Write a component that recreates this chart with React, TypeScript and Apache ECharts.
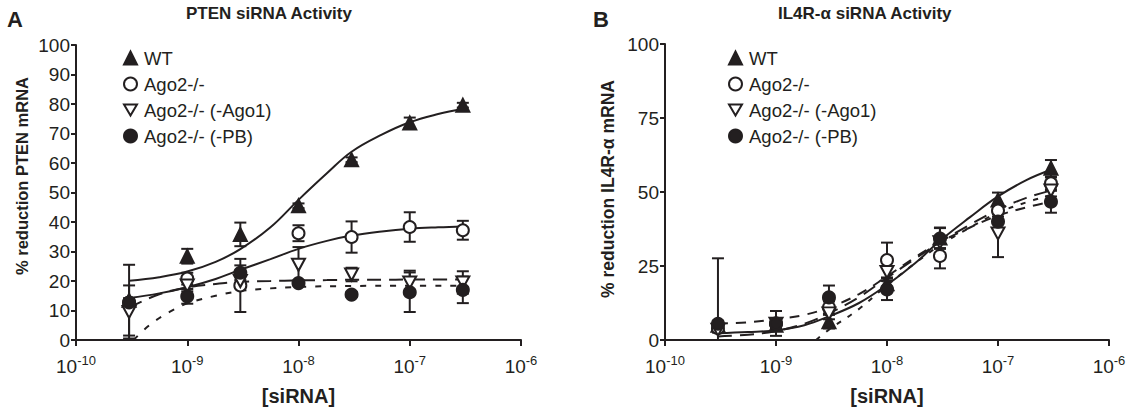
import React, { useEffect, useRef } from "react";
import * as echarts from "echarts";

// siRNA concentrations (M)
const CONC = [3e-10, 1e-9, 3e-9, 1e-8, 3e-8, 1e-7, 3e-7];
const X_TICKS = [1e-10, 1e-9, 1e-8, 1e-7, 1e-6];
const SERIES_NAMES = ["WT", "Ago2-/-", "Ago2-/- (-Ago1)", "Ago2-/- (-PB)"];

// Panel A: PTEN
const A_WT = [13.5, 28.4, 35.8, 45.5, 61.1, 73.6, 79.6];
const A_WT_ERR = [12, 2.5, 4, 0.8, 0.8, 1.8, 0.8];
const A_KO = [12.7, 20.8, 18.5, 36.2, 34.9, 38.3, 37.2];
const A_KO_ERR = [1.5, 2, 9, 2.7, 5.3, 5, 3.2];
const A_AGO1 = [9.5, 18.5, 20, 25.5, 22.2, 19.5, 19.5];
const A_AGO1_ERR = [9, 2, 2, 6, 2.3, 4, 3.8];
const A_PB = [12.7, 14.8, 22.8, 19.3, 15.4, 16.2, 17];
const A_PB_ERR = [1, 2.5, 2.5, 0.8, 0.8, 6.7, 4.5];

// fitted curves
const FIT_X = [3e-10, 5.6e-10, 1e-9, 1.8e-9, 3e-9, 5.6e-9, 1e-8, 1.8e-8, 3e-8, 5.6e-8, 1e-7, 1.8e-7, 3e-7];
const A_WT_FIT = [20.1, 21.3, 23.2, 26.5, 30.8, 38.2, 47.5, 56.5, 63.8, 69.6, 73.8, 76.6, 78.4];
const A_KO_FIT = [14.2, 15.8, 17.9, 20.7, 23.8, 27.4, 30.9, 33.6, 35.4, 36.8, 37.7, 38.2, 38.5];
const A_AGO1_FIT = [11, 15.5, 17.8, 19, 19.7, 20, 20.2, 20.3, 20.4, 20.4, 20.5, 20.5, 20.5];
const A_PB_FIT_X = [3.3e-10, 4.6e-10, 7e-10, 1e-9, 1.8e-9, 3e-9, 5.6e-9, 1e-8, 3e-8, 1e-7, 3e-7];
const A_PB_FIT = [0, 5.1, 9.6, 12.4, 15, 16.6, 17.5, 18, 18.3, 18.4, 18.4];

// Panel B: IL4R-alpha
const B_WT = [5, 5, 6.2, 19, 34.5, 47.3, 58];
const B_WT_ERR = [22.6, 1, 2.3, 2, 3.5, 2.5, 2.8];
const B_KO = [4, 5.5, 11, 27, 28.4, 43.7, 52.9];
const B_KO_ERR = [1, 1, 2, 5.9, 4.2, 2, 2];
const B_AGO1 = [3.5, 5.5, 9, 23, 33, 36, 50.5];
const B_AGO1_ERR = [1, 1, 2, 3, 2, 8, 2];
const B_PB = [5.5, 5.6, 14.4, 17.1, 34.3, 40, 46.7];
const B_PB_ERR = [1, 4.2, 4, 3.6, 3.5, 2.5, 3.7];

const B_WT_FIT = [2.3, 2.7, 3.3, 5, 8, 12.5, 18.6, 26, 33.5, 41.5, 48.5, 54, 57.5];
const B_KO_FIT = [1.2, 1.8, 3, 5.5, 9, 14.5, 21, 27.5, 33, 39, 44, 48, 50.5];
const B_PB_FIT = [5.5, 6, 7, 8.5, 11, 15.5, 21.5, 28, 33, 38, 42, 44.8, 46.7];
const B_AGO1_FIT_X = [2.3e-9, 3e-9, 5.6e-9, 1e-8, 1.8e-8, 3e-8, 5.6e-8, 1e-7, 1.8e-7, 3e-7];
const B_AGO1_FIT = [0, 3.5, 10.5, 18.5, 26, 32, 38, 43, 46.5, 49];

const FONT = "'Liberation Sans', Arial, Helvetica, sans-serif";
const INK = "#231f20";
const INV_TRI = "path://M0,0L20,0L10,17.3Z";

const SYMBOLS = [
  { symbol: "triangle", size: 13, color: INK },
  { symbol: "circle", size: 12, color: "#fff" },
  { symbol: INV_TRI, size: [13, 12], color: "#fff" },
  { symbol: "circle", size: 12, color: INK },
];
const FIT_STYLES: any[] = ["solid", "solid", [14, 8], [6, 9]];
const FIT_STYLES_B: any[] = ["solid", [14, 8], [5, 8], [10, 8]];

function pairs(xs: number[], ys: number[]) {
  return xs.map((x, i) => [x, ys[i]]);
}
function errData(vals: number[], errs: number[]) {
  return CONC.map((x, i) => [x, Math.max(0, vals[i] - errs[i]), vals[i] + errs[i]]);
}

function errorRender(params: any, api: any) {
  const x = api.value(0);
  const lo = api.value(1);
  const hi = api.value(2);
  const p1 = api.coord([x, hi]);
  const p2 = api.coord([x, lo]);
  const w = 6;
  const st = { stroke: INK, lineWidth: 2 };
  return {
    type: "group",
    children: [
      { type: "line", shape: { x1: p1[0], y1: p1[1], x2: p2[0], y2: p2[1] }, style: st },
      { type: "line", shape: { x1: p1[0] - w, y1: p1[1], x2: p1[0] + w, y2: p1[1] }, style: st },
      { type: "line", shape: { x1: p2[0] - w, y1: p2[1], x2: p2[0] + w, y2: p2[1] }, style: st },
    ],
  };
}

function xAxisDef(gridIndex: number) {
  return {
    gridIndex,
    type: "log",
    logBase: 10,
    min: X_TICKS[0],
    max: X_TICKS[X_TICKS.length - 1],
    name: "[siRNA]",
    nameLocation: "middle",
    nameGap: 46,
    nameTextStyle: { fontFamily: FONT, fontSize: 20, fontWeight: "bold", color: INK },
    axisLine: { lineStyle: { color: INK, width: 2 } },
    axisTick: { show: true, length: 6, lineStyle: { width: 2, color: INK } },
    minorTick: { show: false },
    splitLine: { show: false },
    axisLabel: {
      margin: 14,
      formatter: (v: number) => `{b|10}{s|${Math.round(Math.log10(v))}}`,
      rich: {
        b: { fontFamily: FONT, fontSize: 19, color: INK, lineHeight: 22, verticalAlign: "bottom" },
        s: { fontFamily: FONT, fontSize: 13, color: INK, lineHeight: 12, verticalAlign: "top" },
      },
    },
  };
}

function yAxisDef(gridIndex: number, interval: number) {
  return {
    gridIndex,
    type: "value",
    min: 0,
    max: 100,
    interval,
    axisLine: { show: true, lineStyle: { color: INK, width: 2 } },
    axisTick: { show: true, length: 5, lineStyle: { width: 2, color: INK } },
    splitLine: { show: false },
    axisLabel: { fontFamily: FONT, fontSize: 19, color: INK, margin: 6 },
  };
}

function panelSeries(
  idx: number,
  vals: number[][],
  errs: number[][],
  fits: { x: number[]; y: number[] }[],
  fitStyles: any[]
) {
  const out: any[] = [];
  vals.forEach((v, k) => {
    out.push({
      name: `err-${idx}-${k}`,
      type: "custom",
      xAxisIndex: idx,
      yAxisIndex: idx,
      renderItem: errorRender,
      data: errData(v, errs[k]),
      z: 2,
    });
  });
  fits.forEach((f, k) => {
    out.push({
      name: `fit-${idx}-${k}`,
      type: "line",
      xAxisIndex: idx,
      yAxisIndex: idx,
      data: pairs(f.x, f.y),
      smooth: 0.4,
      showSymbol: false,
      symbol: "none",
      lineStyle: { color: INK, width: 2, type: fitStyles[k] },
      z: 3,
    });
  });
  vals.forEach((v, k) => {
    const s = SYMBOLS[k];
    out.push({
      name: SERIES_NAMES[k],
      type: "scatter",
      xAxisIndex: idx,
      yAxisIndex: idx,
      symbol: s.symbol,
      symbolSize: s.size,
      itemStyle: { color: s.color, borderColor: INK, borderWidth: 2, opacity: 1 },
      data: pairs(CONC, v),
      z: 4 + k,
    });
  });
  return out;
}

function legendDef(left: number) {
  return {
    left,
    top: 42,
    orient: "vertical",
    itemWidth: 13,
    itemHeight: 13,
    itemGap: 4,
    selectedMode: false,
    data: SERIES_NAMES,
    textStyle: { fontFamily: FONT, fontSize: 18.5, color: INK, padding: [0, 0, 0, 2], lineHeight: 22 },
  };
}

function yTitle(x: number, y: number, text: string, size: number) {
  return {
    type: "text",
    x,
    y,
    rotation: Math.PI / 2,
    style: {
      text,
      fontFamily: FONT,
      fontSize: size,
      fontWeight: "bold",
      fill: INK,
      align: "center",
      verticalAlign: "middle",
    },
  };
}

export default function App() {
  const ref = useRef<HTMLDivElement>(null);
  useEffect(() => {
    if (!ref.current) return;
    const chart = echarts.init(ref.current, undefined, { renderer: "svg" });
    const option: any = {
      animation: false,
      backgroundColor: "#ffffff",
      title: [
        { text: "A", left: 7, top: 8, padding: 0, textStyle: { fontFamily: FONT, fontSize: 22, fontWeight: "bold", color: INK } },
        { text: "PTEN siRNA Activity", left: 186, top: 5, padding: 0, textStyle: { fontFamily: FONT, fontSize: 17, fontWeight: "bold", color: INK } },
        { text: "B", left: 593, top: 8, padding: 0, textStyle: { fontFamily: FONT, fontSize: 22, fontWeight: "bold", color: INK } },
        { text: "IL4R-α siRNA Activity", left: 778, top: 5, padding: 0, textStyle: { fontFamily: FONT, fontSize: 17, fontWeight: "bold", color: INK } },
      ],
      graphic: [
        yTitle(22, 176, "% reduction PTEN mRNA", 16.5),
        yTitle(608, 189, "% reduction IL4R-α mRNA", 17.5),
      ],
      legend: [legendDef(118), legendDef(723)],
      grid: [
        { left: 76, top: 45, width: 445, height: 295 },
        { left: 665, top: 44, width: 444, height: 296 },
      ],
      xAxis: [xAxisDef(0), xAxisDef(1)],
      yAxis: [yAxisDef(0, 10), yAxisDef(1, 25)],
      series: [
        ...panelSeries(
          0,
          [A_WT, A_KO, A_AGO1, A_PB],
          [A_WT_ERR, A_KO_ERR, A_AGO1_ERR, A_PB_ERR],
          [
            { x: FIT_X, y: A_WT_FIT },
            { x: FIT_X, y: A_KO_FIT },
            { x: FIT_X, y: A_AGO1_FIT },
            { x: A_PB_FIT_X, y: A_PB_FIT },
          ],
          FIT_STYLES
        ),
        ...panelSeries(
          1,
          [B_WT, B_KO, B_AGO1, B_PB],
          [B_WT_ERR, B_KO_ERR, B_AGO1_ERR, B_PB_ERR],
          [
            { x: FIT_X, y: B_WT_FIT },
            { x: FIT_X, y: B_KO_FIT },
            { x: B_AGO1_FIT_X, y: B_AGO1_FIT },
            { x: FIT_X, y: B_PB_FIT },
          ],
          FIT_STYLES_B
        ),
      ],
    };
    chart.setOption(option);
    return () => chart.dispose();
  }, []);
  return (
    <div
      ref={ref}
      style={{ position: "absolute", left: 0, top: 0, width: 1129, height: 413, background: "#fff" }}
    />
  );
}
